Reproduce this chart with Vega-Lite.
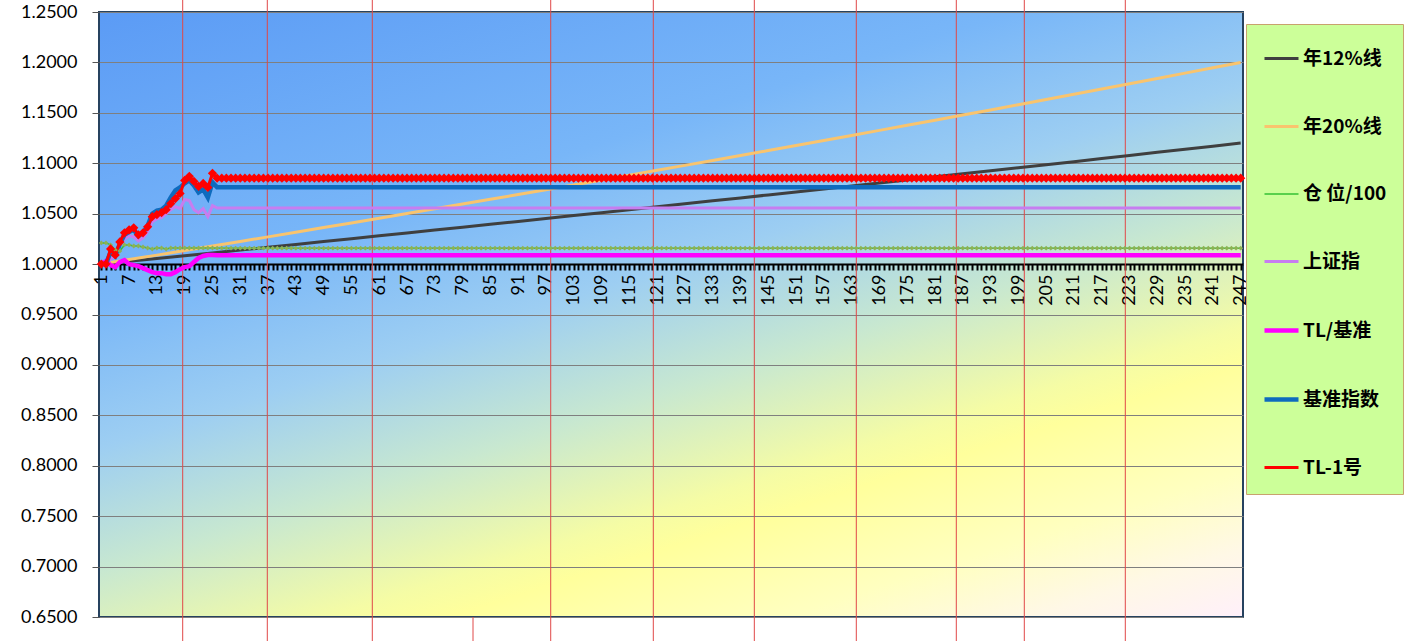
{
"$schema": "https://vega.github.io/schema/vega-lite/v6.json",
"width": 1144, "height": 605,
"autosize": {"type": "none"},
"padding": {"left": 99, "top": 12, "right": 166, "bottom": 24},
"background": "white",
"config": {
  "view": {"fill": {"gradient": "linear", "x1": 0, "y1": 0, "x2": 0.706, "y2": 1.176, "stops": [
    {"offset": 0, "color": "#5B9BF5"}, {"offset": 0.3, "color": "#78B6F8"}, {"offset": 0.45, "color": "#9DCEF2"},
    {"offset": 0.58, "color": "#C8E8D0"}, {"offset": 0.7, "color": "#F5FCA5"}, {"offset": 0.74, "color": "#FFFF9C"},
    {"offset": 0.85, "color": "#FFFFC0"}, {"offset": 0.93, "color": "#FFF8E6"}, {"offset": 1, "color": "#FFF0FA"}]},
    "stroke": "#26425F", "strokeWidth": 2},
  "axis": {"labelFont": "Lato", "labelColor": "black"}
},
"datasets": {
"vl": [
 {"d":18.57,"y1":1.262,"y2":0.626},{"d":36.84,"y1":1.262,"y2":0.626},{"d":59.51,"y1":1.262,"y2":0.626},
 {"d":81.25,"y1":0.65,"y2":0.626},{"d":98.03,"y1":1.262,"y2":0.626},{"d":120.18,"y1":1.262,"y2":0.626},
 {"d":141.99,"y1":1.262,"y2":0.626},{"d":164.01,"y1":1.262,"y2":0.626},{"d":185.6,"y1":1.262,"y2":0.626},
 {"d":200.28,"y1":1.262,"y2":0.626},{"d":222.09,"y1":1.262,"y2":0.626}
],
"main": [
{"d":1,"a":1,"b":1,"p":1.021,"s":1,"t":1,"j":1,"r":1},
{"d":2,"p":1.021,"s":0.999,"t":1.003,"j":1,"r":1},
{"d":3,"p":1.019,"s":1.005,"t":0.999,"j":1.012,"r":1.015},
{"d":4,"p":1.014,"s":1.008,"t":0.997,"j":1.008,"r":1.009},
{"d":5,"p":1.013,"s":1.018,"t":1.002,"j":1.02,"r":1.022},
{"d":6,"p":1.019,"s":1.025,"t":1.004,"j":1.029,"r":1.031},
{"d":7,"a":1.0028,"b":1.0045,"p":1.019,"s":1.028,"t":1,"j":1.032,"r":1.034},
{"d":8,"p":1.018,"s":1.027,"t":0.999,"j":1.034,"r":1.036},
{"d":9,"p":1.018,"s":1.023,"t":0.998,"j":1.028,"r":1.029},
{"d":10,"p":1.017,"s":1.026,"t":0.996,"j":1.031,"r":1.031},
{"d":11,"p":1.016,"s":1.032,"t":0.994,"j":1.038,"r":1.037},
{"d":12,"p":1.015,"s":1.042,"t":0.992,"j":1.05,"r":1.047},
{"d":13,"a":1.0055,"b":1.0089,"p":1.016,"s":1.045,"t":0.991,"j":1.053,"r":1.049},
{"d":14,"p":1.016,"s":1.046,"t":0.991,"j":1.054,"r":1.051},
{"d":15,"p":1.015,"s":1.05,"t":0.99,"j":1.058,"r":1.054},
{"d":16,"p":1.016,"s":1.054,"t":0.99,"j":1.066,"r":1.06},
{"d":17,"p":1.016,"s":1.057,"t":0.992,"j":1.073,"r":1.065},
{"d":18,"p":1.016,"s":1.055,"t":0.995,"j":1.076,"r":1.07},
{"d":19,"a":1.0083,"b":1.0134,"p":1.016,"s":1.064,"t":0.997,"j":1.08,"r":1.083},
{"d":20,"p":1.016,"s":1.063,"t":0.998,"j":1.083,"r":1.087},
{"d":21,"p":1.016,"s":1.054,"t":1.002,"j":1.078,"r":1.082},
{"d":22,"p":1.016,"s":1.051,"t":1.006,"j":1.071,"r":1.077},
{"d":23,"p":1.016,"s":1.055,"t":1.008,"j":1.074,"r":1.08},
{"d":24,"p":1.016,"s":1.047,"t":1.009,"j":1.066,"r":1.076},
{"d":25,"a":1.0111,"b":1.0179,"p":1.016,"s":1.058,"t":1.009,"j":1.081,"r":1.09},
{"d":26,"p":1.0158,"s":1.0555,"t":1.0088,"j":1.0762,"r":1.0852},
{"d":27,"p":1.0158,"s":1.0555,"t":1.0088,"j":1.0762,"r":1.0852},
{"d":28,"p":1.0158,"s":1.0555,"t":1.0088,"j":1.0762,"r":1.0852},
{"d":29,"p":1.0158,"s":1.0555,"t":1.0088,"j":1.0762,"r":1.0852},
{"d":30,"p":1.0158,"s":1.0555,"t":1.0088,"j":1.0762,"r":1.0852},
{"d":31,"a":1.0139,"b":1.0225,"p":1.0158,"s":1.0555,"t":1.0088,"j":1.0762,"r":1.0852},
{"d":32,"p":1.0158,"s":1.0555,"t":1.0088,"j":1.0762,"r":1.0852},
{"d":33,"p":1.0158,"s":1.0555,"t":1.0088,"j":1.0762,"r":1.0852},
{"d":34,"p":1.0158,"s":1.0555,"t":1.0088,"j":1.0762,"r":1.0852},
{"d":35,"p":1.0158,"s":1.0555,"t":1.0088,"j":1.0762,"r":1.0852},
{"d":36,"p":1.0158,"s":1.0555,"t":1.0088,"j":1.0762,"r":1.0852},
{"d":37,"a":1.0167,"b":1.027,"p":1.0158,"s":1.0555,"t":1.0088,"j":1.0762,"r":1.0852},
{"d":38,"p":1.0158,"s":1.0555,"t":1.0088,"j":1.0762,"r":1.0852},
{"d":39,"p":1.0158,"s":1.0555,"t":1.0088,"j":1.0762,"r":1.0852},
{"d":40,"p":1.0158,"s":1.0555,"t":1.0088,"j":1.0762,"r":1.0852},
{"d":41,"p":1.0158,"s":1.0555,"t":1.0088,"j":1.0762,"r":1.0852},
{"d":42,"p":1.0158,"s":1.0555,"t":1.0088,"j":1.0762,"r":1.0852},
{"d":43,"a":1.0195,"b":1.0316,"p":1.0158,"s":1.0555,"t":1.0088,"j":1.0762,"r":1.0852},
{"d":44,"p":1.0158,"s":1.0555,"t":1.0088,"j":1.0762,"r":1.0852},
{"d":45,"p":1.0158,"s":1.0555,"t":1.0088,"j":1.0762,"r":1.0852},
{"d":46,"p":1.0158,"s":1.0555,"t":1.0088,"j":1.0762,"r":1.0852},
{"d":47,"p":1.0158,"s":1.0555,"t":1.0088,"j":1.0762,"r":1.0852},
{"d":48,"p":1.0158,"s":1.0555,"t":1.0088,"j":1.0762,"r":1.0852},
{"d":49,"a":1.0224,"b":1.0362,"p":1.0158,"s":1.0555,"t":1.0088,"j":1.0762,"r":1.0852},
{"d":50,"p":1.0158,"s":1.0555,"t":1.0088,"j":1.0762,"r":1.0852},
{"d":51,"p":1.0158,"s":1.0555,"t":1.0088,"j":1.0762,"r":1.0852},
{"d":52,"p":1.0158,"s":1.0555,"t":1.0088,"j":1.0762,"r":1.0852},
{"d":53,"p":1.0158,"s":1.0555,"t":1.0088,"j":1.0762,"r":1.0852},
{"d":54,"p":1.0158,"s":1.0555,"t":1.0088,"j":1.0762,"r":1.0852},
{"d":55,"a":1.0252,"b":1.0408,"p":1.0158,"s":1.0555,"t":1.0088,"j":1.0762,"r":1.0852},
{"d":56,"p":1.0158,"s":1.0555,"t":1.0088,"j":1.0762,"r":1.0852},
{"d":57,"p":1.0158,"s":1.0555,"t":1.0088,"j":1.0762,"r":1.0852},
{"d":58,"p":1.0158,"s":1.0555,"t":1.0088,"j":1.0762,"r":1.0852},
{"d":59,"p":1.0158,"s":1.0555,"t":1.0088,"j":1.0762,"r":1.0852},
{"d":60,"p":1.0158,"s":1.0555,"t":1.0088,"j":1.0762,"r":1.0852},
{"d":61,"a":1.028,"b":1.0455,"p":1.0158,"s":1.0555,"t":1.0088,"j":1.0762,"r":1.0852},
{"d":62,"p":1.0158,"s":1.0555,"t":1.0088,"j":1.0762,"r":1.0852},
{"d":63,"p":1.0158,"s":1.0555,"t":1.0088,"j":1.0762,"r":1.0852},
{"d":64,"p":1.0158,"s":1.0555,"t":1.0088,"j":1.0762,"r":1.0852},
{"d":65,"p":1.0158,"s":1.0555,"t":1.0088,"j":1.0762,"r":1.0852},
{"d":66,"p":1.0158,"s":1.0555,"t":1.0088,"j":1.0762,"r":1.0852},
{"d":67,"a":1.0309,"b":1.0501,"p":1.0158,"s":1.0555,"t":1.0088,"j":1.0762,"r":1.0852},
{"d":68,"p":1.0158,"s":1.0555,"t":1.0088,"j":1.0762,"r":1.0852},
{"d":69,"p":1.0158,"s":1.0555,"t":1.0088,"j":1.0762,"r":1.0852},
{"d":70,"p":1.0158,"s":1.0555,"t":1.0088,"j":1.0762,"r":1.0852},
{"d":71,"p":1.0158,"s":1.0555,"t":1.0088,"j":1.0762,"r":1.0852},
{"d":72,"p":1.0158,"s":1.0555,"t":1.0088,"j":1.0762,"r":1.0852},
{"d":73,"a":1.0337,"b":1.0548,"p":1.0158,"s":1.0555,"t":1.0088,"j":1.0762,"r":1.0852},
{"d":74,"p":1.0158,"s":1.0555,"t":1.0088,"j":1.0762,"r":1.0852},
{"d":75,"p":1.0158,"s":1.0555,"t":1.0088,"j":1.0762,"r":1.0852},
{"d":76,"p":1.0158,"s":1.0555,"t":1.0088,"j":1.0762,"r":1.0852},
{"d":77,"p":1.0158,"s":1.0555,"t":1.0088,"j":1.0762,"r":1.0852},
{"d":78,"p":1.0158,"s":1.0555,"t":1.0088,"j":1.0762,"r":1.0852},
{"d":79,"a":1.0366,"b":1.0595,"p":1.0158,"s":1.0555,"t":1.0088,"j":1.0762,"r":1.0852},
{"d":80,"p":1.0158,"s":1.0555,"t":1.0088,"j":1.0762,"r":1.0852},
{"d":81,"p":1.0158,"s":1.0555,"t":1.0088,"j":1.0762,"r":1.0852},
{"d":82,"p":1.0158,"s":1.0555,"t":1.0088,"j":1.0762,"r":1.0852},
{"d":83,"p":1.0158,"s":1.0555,"t":1.0088,"j":1.0762,"r":1.0852},
{"d":84,"p":1.0158,"s":1.0555,"t":1.0088,"j":1.0762,"r":1.0852},
{"d":85,"a":1.0395,"b":1.0642,"p":1.0158,"s":1.0555,"t":1.0088,"j":1.0762,"r":1.0852},
{"d":86,"p":1.0158,"s":1.0555,"t":1.0088,"j":1.0762,"r":1.0852},
{"d":87,"p":1.0158,"s":1.0555,"t":1.0088,"j":1.0762,"r":1.0852},
{"d":88,"p":1.0158,"s":1.0555,"t":1.0088,"j":1.0762,"r":1.0852},
{"d":89,"p":1.0158,"s":1.0555,"t":1.0088,"j":1.0762,"r":1.0852},
{"d":90,"p":1.0158,"s":1.0555,"t":1.0088,"j":1.0762,"r":1.0852},
{"d":91,"a":1.0423,"b":1.069,"p":1.0158,"s":1.0555,"t":1.0088,"j":1.0762,"r":1.0852},
{"d":92,"p":1.0158,"s":1.0555,"t":1.0088,"j":1.0762,"r":1.0852},
{"d":93,"p":1.0158,"s":1.0555,"t":1.0088,"j":1.0762,"r":1.0852},
{"d":94,"p":1.0158,"s":1.0555,"t":1.0088,"j":1.0762,"r":1.0852},
{"d":95,"p":1.0158,"s":1.0555,"t":1.0088,"j":1.0762,"r":1.0852},
{"d":96,"p":1.0158,"s":1.0555,"t":1.0088,"j":1.0762,"r":1.0852},
{"d":97,"a":1.0452,"b":1.0737,"p":1.0158,"s":1.0555,"t":1.0088,"j":1.0762,"r":1.0852},
{"d":98,"p":1.0158,"s":1.0555,"t":1.0088,"j":1.0762,"r":1.0852},
{"d":99,"p":1.0158,"s":1.0555,"t":1.0088,"j":1.0762,"r":1.0852},
{"d":100,"p":1.0158,"s":1.0555,"t":1.0088,"j":1.0762,"r":1.0852},
{"d":101,"p":1.0158,"s":1.0555,"t":1.0088,"j":1.0762,"r":1.0852},
{"d":102,"p":1.0158,"s":1.0555,"t":1.0088,"j":1.0762,"r":1.0852},
{"d":103,"a":1.0481,"b":1.0785,"p":1.0158,"s":1.0555,"t":1.0088,"j":1.0762,"r":1.0852},
{"d":104,"p":1.0158,"s":1.0555,"t":1.0088,"j":1.0762,"r":1.0852},
{"d":105,"p":1.0158,"s":1.0555,"t":1.0088,"j":1.0762,"r":1.0852},
{"d":106,"p":1.0158,"s":1.0555,"t":1.0088,"j":1.0762,"r":1.0852},
{"d":107,"p":1.0158,"s":1.0555,"t":1.0088,"j":1.0762,"r":1.0852},
{"d":108,"p":1.0158,"s":1.0555,"t":1.0088,"j":1.0762,"r":1.0852},
{"d":109,"a":1.051,"b":1.0833,"p":1.0158,"s":1.0555,"t":1.0088,"j":1.0762,"r":1.0852},
{"d":110,"p":1.0158,"s":1.0555,"t":1.0088,"j":1.0762,"r":1.0852},
{"d":111,"p":1.0158,"s":1.0555,"t":1.0088,"j":1.0762,"r":1.0852},
{"d":112,"p":1.0158,"s":1.0555,"t":1.0088,"j":1.0762,"r":1.0852},
{"d":113,"p":1.0158,"s":1.0555,"t":1.0088,"j":1.0762,"r":1.0852},
{"d":114,"p":1.0158,"s":1.0555,"t":1.0088,"j":1.0762,"r":1.0852},
{"d":115,"a":1.0539,"b":1.0882,"p":1.0158,"s":1.0555,"t":1.0088,"j":1.0762,"r":1.0852},
{"d":116,"p":1.0158,"s":1.0555,"t":1.0088,"j":1.0762,"r":1.0852},
{"d":117,"p":1.0158,"s":1.0555,"t":1.0088,"j":1.0762,"r":1.0852},
{"d":118,"p":1.0158,"s":1.0555,"t":1.0088,"j":1.0762,"r":1.0852},
{"d":119,"p":1.0158,"s":1.0555,"t":1.0088,"j":1.0762,"r":1.0852},
{"d":120,"p":1.0158,"s":1.0555,"t":1.0088,"j":1.0762,"r":1.0852},
{"d":121,"a":1.0568,"b":1.093,"p":1.0158,"s":1.0555,"t":1.0088,"j":1.0762,"r":1.0852},
{"d":122,"p":1.0158,"s":1.0555,"t":1.0088,"j":1.0762,"r":1.0852},
{"d":123,"p":1.0158,"s":1.0555,"t":1.0088,"j":1.0762,"r":1.0852},
{"d":124,"p":1.0158,"s":1.0555,"t":1.0088,"j":1.0762,"r":1.0852},
{"d":125,"p":1.0158,"s":1.0555,"t":1.0088,"j":1.0762,"r":1.0852},
{"d":126,"p":1.0158,"s":1.0555,"t":1.0088,"j":1.0762,"r":1.0852},
{"d":127,"a":1.0598,"b":1.0979,"p":1.0158,"s":1.0555,"t":1.0088,"j":1.0762,"r":1.0852},
{"d":128,"p":1.0158,"s":1.0555,"t":1.0088,"j":1.0762,"r":1.0852},
{"d":129,"p":1.0158,"s":1.0555,"t":1.0088,"j":1.0762,"r":1.0852},
{"d":130,"p":1.0158,"s":1.0555,"t":1.0088,"j":1.0762,"r":1.0852},
{"d":131,"p":1.0158,"s":1.0555,"t":1.0088,"j":1.0762,"r":1.0852},
{"d":132,"p":1.0158,"s":1.0555,"t":1.0088,"j":1.0762,"r":1.0852},
{"d":133,"a":1.0627,"b":1.1028,"p":1.0158,"s":1.0555,"t":1.0088,"j":1.0762,"r":1.0852},
{"d":134,"p":1.0158,"s":1.0555,"t":1.0088,"j":1.0762,"r":1.0852},
{"d":135,"p":1.0158,"s":1.0555,"t":1.0088,"j":1.0762,"r":1.0852},
{"d":136,"p":1.0158,"s":1.0555,"t":1.0088,"j":1.0762,"r":1.0852},
{"d":137,"p":1.0158,"s":1.0555,"t":1.0088,"j":1.0762,"r":1.0852},
{"d":138,"p":1.0158,"s":1.0555,"t":1.0088,"j":1.0762,"r":1.0852},
{"d":139,"a":1.0656,"b":1.1077,"p":1.0158,"s":1.0555,"t":1.0088,"j":1.0762,"r":1.0852},
{"d":140,"p":1.0158,"s":1.0555,"t":1.0088,"j":1.0762,"r":1.0852},
{"d":141,"p":1.0158,"s":1.0555,"t":1.0088,"j":1.0762,"r":1.0852},
{"d":142,"p":1.0158,"s":1.0555,"t":1.0088,"j":1.0762,"r":1.0852},
{"d":143,"p":1.0158,"s":1.0555,"t":1.0088,"j":1.0762,"r":1.0852},
{"d":144,"p":1.0158,"s":1.0555,"t":1.0088,"j":1.0762,"r":1.0852},
{"d":145,"a":1.0686,"b":1.1126,"p":1.0158,"s":1.0555,"t":1.0088,"j":1.0762,"r":1.0852},
{"d":146,"p":1.0158,"s":1.0555,"t":1.0088,"j":1.0762,"r":1.0852},
{"d":147,"p":1.0158,"s":1.0555,"t":1.0088,"j":1.0762,"r":1.0852},
{"d":148,"p":1.0158,"s":1.0555,"t":1.0088,"j":1.0762,"r":1.0852},
{"d":149,"p":1.0158,"s":1.0555,"t":1.0088,"j":1.0762,"r":1.0852},
{"d":150,"p":1.0158,"s":1.0555,"t":1.0088,"j":1.0762,"r":1.0852},
{"d":151,"a":1.0715,"b":1.1176,"p":1.0158,"s":1.0555,"t":1.0088,"j":1.0762,"r":1.0852},
{"d":152,"p":1.0158,"s":1.0555,"t":1.0088,"j":1.0762,"r":1.0852},
{"d":153,"p":1.0158,"s":1.0555,"t":1.0088,"j":1.0762,"r":1.0852},
{"d":154,"p":1.0158,"s":1.0555,"t":1.0088,"j":1.0762,"r":1.0852},
{"d":155,"p":1.0158,"s":1.0555,"t":1.0088,"j":1.0762,"r":1.0852},
{"d":156,"p":1.0158,"s":1.0555,"t":1.0088,"j":1.0762,"r":1.0852},
{"d":157,"a":1.0745,"b":1.1226,"p":1.0158,"s":1.0555,"t":1.0088,"j":1.0762,"r":1.0852},
{"d":158,"p":1.0158,"s":1.0555,"t":1.0088,"j":1.0762,"r":1.0852},
{"d":159,"p":1.0158,"s":1.0555,"t":1.0088,"j":1.0762,"r":1.0852},
{"d":160,"p":1.0158,"s":1.0555,"t":1.0088,"j":1.0762,"r":1.0852},
{"d":161,"p":1.0158,"s":1.0555,"t":1.0088,"j":1.0762,"r":1.0852},
{"d":162,"p":1.0158,"s":1.0555,"t":1.0088,"j":1.0762,"r":1.0852},
{"d":163,"a":1.0775,"b":1.1276,"p":1.0158,"s":1.0555,"t":1.0088,"j":1.0762,"r":1.0852},
{"d":164,"p":1.0158,"s":1.0555,"t":1.0088,"j":1.0762,"r":1.0852},
{"d":165,"p":1.0158,"s":1.0555,"t":1.0088,"j":1.0762,"r":1.0852},
{"d":166,"p":1.0158,"s":1.0555,"t":1.0088,"j":1.0762,"r":1.0852},
{"d":167,"p":1.0158,"s":1.0555,"t":1.0088,"j":1.0762,"r":1.0852},
{"d":168,"p":1.0158,"s":1.0555,"t":1.0088,"j":1.0762,"r":1.0852},
{"d":169,"a":1.0805,"b":1.1326,"p":1.0158,"s":1.0555,"t":1.0088,"j":1.0762,"r":1.0852},
{"d":170,"p":1.0158,"s":1.0555,"t":1.0088,"j":1.0762,"r":1.0852},
{"d":171,"p":1.0158,"s":1.0555,"t":1.0088,"j":1.0762,"r":1.0852},
{"d":172,"p":1.0158,"s":1.0555,"t":1.0088,"j":1.0762,"r":1.0852},
{"d":173,"p":1.0158,"s":1.0555,"t":1.0088,"j":1.0762,"r":1.0852},
{"d":174,"p":1.0158,"s":1.0555,"t":1.0088,"j":1.0762,"r":1.0852},
{"d":175,"a":1.0835,"b":1.1376,"p":1.0158,"s":1.0555,"t":1.0088,"j":1.0762,"r":1.0852},
{"d":176,"p":1.0158,"s":1.0555,"t":1.0088,"j":1.0762,"r":1.0852},
{"d":177,"p":1.0158,"s":1.0555,"t":1.0088,"j":1.0762,"r":1.0852},
{"d":178,"p":1.0158,"s":1.0555,"t":1.0088,"j":1.0762,"r":1.0852},
{"d":179,"p":1.0158,"s":1.0555,"t":1.0088,"j":1.0762,"r":1.0852},
{"d":180,"p":1.0158,"s":1.0555,"t":1.0088,"j":1.0762,"r":1.0852},
{"d":181,"a":1.0865,"b":1.1427,"p":1.0158,"s":1.0555,"t":1.0088,"j":1.0762,"r":1.0852},
{"d":182,"p":1.0158,"s":1.0555,"t":1.0088,"j":1.0762,"r":1.0852},
{"d":183,"p":1.0158,"s":1.0555,"t":1.0088,"j":1.0762,"r":1.0852},
{"d":184,"p":1.0158,"s":1.0555,"t":1.0088,"j":1.0762,"r":1.0852},
{"d":185,"p":1.0158,"s":1.0555,"t":1.0088,"j":1.0762,"r":1.0852},
{"d":186,"p":1.0158,"s":1.0555,"t":1.0088,"j":1.0762,"r":1.0852},
{"d":187,"a":1.0895,"b":1.1478,"p":1.0158,"s":1.0555,"t":1.0088,"j":1.0762,"r":1.0852},
{"d":188,"p":1.0158,"s":1.0555,"t":1.0088,"j":1.0762,"r":1.0852},
{"d":189,"p":1.0158,"s":1.0555,"t":1.0088,"j":1.0762,"r":1.0852},
{"d":190,"p":1.0158,"s":1.0555,"t":1.0088,"j":1.0762,"r":1.0852},
{"d":191,"p":1.0158,"s":1.0555,"t":1.0088,"j":1.0762,"r":1.0852},
{"d":192,"p":1.0158,"s":1.0555,"t":1.0088,"j":1.0762,"r":1.0852},
{"d":193,"a":1.0925,"b":1.1529,"p":1.0158,"s":1.0555,"t":1.0088,"j":1.0762,"r":1.0852},
{"d":194,"p":1.0158,"s":1.0555,"t":1.0088,"j":1.0762,"r":1.0852},
{"d":195,"p":1.0158,"s":1.0555,"t":1.0088,"j":1.0762,"r":1.0852},
{"d":196,"p":1.0158,"s":1.0555,"t":1.0088,"j":1.0762,"r":1.0852},
{"d":197,"p":1.0158,"s":1.0555,"t":1.0088,"j":1.0762,"r":1.0852},
{"d":198,"p":1.0158,"s":1.0555,"t":1.0088,"j":1.0762,"r":1.0852},
{"d":199,"a":1.0955,"b":1.1581,"p":1.0158,"s":1.0555,"t":1.0088,"j":1.0762,"r":1.0852},
{"d":200,"p":1.0158,"s":1.0555,"t":1.0088,"j":1.0762,"r":1.0852},
{"d":201,"p":1.0158,"s":1.0555,"t":1.0088,"j":1.0762,"r":1.0852},
{"d":202,"p":1.0158,"s":1.0555,"t":1.0088,"j":1.0762,"r":1.0852},
{"d":203,"p":1.0158,"s":1.0555,"t":1.0088,"j":1.0762,"r":1.0852},
{"d":204,"p":1.0158,"s":1.0555,"t":1.0088,"j":1.0762,"r":1.0852},
{"d":205,"a":1.0985,"b":1.1632,"p":1.0158,"s":1.0555,"t":1.0088,"j":1.0762,"r":1.0852},
{"d":206,"p":1.0158,"s":1.0555,"t":1.0088,"j":1.0762,"r":1.0852},
{"d":207,"p":1.0158,"s":1.0555,"t":1.0088,"j":1.0762,"r":1.0852},
{"d":208,"p":1.0158,"s":1.0555,"t":1.0088,"j":1.0762,"r":1.0852},
{"d":209,"p":1.0158,"s":1.0555,"t":1.0088,"j":1.0762,"r":1.0852},
{"d":210,"p":1.0158,"s":1.0555,"t":1.0088,"j":1.0762,"r":1.0852},
{"d":211,"a":1.1016,"b":1.1684,"p":1.0158,"s":1.0555,"t":1.0088,"j":1.0762,"r":1.0852},
{"d":212,"p":1.0158,"s":1.0555,"t":1.0088,"j":1.0762,"r":1.0852},
{"d":213,"p":1.0158,"s":1.0555,"t":1.0088,"j":1.0762,"r":1.0852},
{"d":214,"p":1.0158,"s":1.0555,"t":1.0088,"j":1.0762,"r":1.0852},
{"d":215,"p":1.0158,"s":1.0555,"t":1.0088,"j":1.0762,"r":1.0852},
{"d":216,"p":1.0158,"s":1.0555,"t":1.0088,"j":1.0762,"r":1.0852},
{"d":217,"a":1.1046,"b":1.1736,"p":1.0158,"s":1.0555,"t":1.0088,"j":1.0762,"r":1.0852},
{"d":218,"p":1.0158,"s":1.0555,"t":1.0088,"j":1.0762,"r":1.0852},
{"d":219,"p":1.0158,"s":1.0555,"t":1.0088,"j":1.0762,"r":1.0852},
{"d":220,"p":1.0158,"s":1.0555,"t":1.0088,"j":1.0762,"r":1.0852},
{"d":221,"p":1.0158,"s":1.0555,"t":1.0088,"j":1.0762,"r":1.0852},
{"d":222,"p":1.0158,"s":1.0555,"t":1.0088,"j":1.0762,"r":1.0852},
{"d":223,"a":1.1077,"b":1.1788,"p":1.0158,"s":1.0555,"t":1.0088,"j":1.0762,"r":1.0852},
{"d":224,"p":1.0158,"s":1.0555,"t":1.0088,"j":1.0762,"r":1.0852},
{"d":225,"p":1.0158,"s":1.0555,"t":1.0088,"j":1.0762,"r":1.0852},
{"d":226,"p":1.0158,"s":1.0555,"t":1.0088,"j":1.0762,"r":1.0852},
{"d":227,"p":1.0158,"s":1.0555,"t":1.0088,"j":1.0762,"r":1.0852},
{"d":228,"p":1.0158,"s":1.0555,"t":1.0088,"j":1.0762,"r":1.0852},
{"d":229,"a":1.1108,"b":1.1841,"p":1.0158,"s":1.0555,"t":1.0088,"j":1.0762,"r":1.0852},
{"d":230,"p":1.0158,"s":1.0555,"t":1.0088,"j":1.0762,"r":1.0852},
{"d":231,"p":1.0158,"s":1.0555,"t":1.0088,"j":1.0762,"r":1.0852},
{"d":232,"p":1.0158,"s":1.0555,"t":1.0088,"j":1.0762,"r":1.0852},
{"d":233,"p":1.0158,"s":1.0555,"t":1.0088,"j":1.0762,"r":1.0852},
{"d":234,"p":1.0158,"s":1.0555,"t":1.0088,"j":1.0762,"r":1.0852},
{"d":235,"a":1.1138,"b":1.1894,"p":1.0158,"s":1.0555,"t":1.0088,"j":1.0762,"r":1.0852},
{"d":236,"p":1.0158,"s":1.0555,"t":1.0088,"j":1.0762,"r":1.0852},
{"d":237,"p":1.0158,"s":1.0555,"t":1.0088,"j":1.0762,"r":1.0852},
{"d":238,"p":1.0158,"s":1.0555,"t":1.0088,"j":1.0762,"r":1.0852},
{"d":239,"p":1.0158,"s":1.0555,"t":1.0088,"j":1.0762,"r":1.0852},
{"d":240,"p":1.0158,"s":1.0555,"t":1.0088,"j":1.0762,"r":1.0852},
{"d":241,"a":1.1169,"b":1.1947,"p":1.0158,"s":1.0555,"t":1.0088,"j":1.0762,"r":1.0852},
{"d":242,"p":1.0158,"s":1.0555,"t":1.0088,"j":1.0762,"r":1.0852},
{"d":243,"p":1.0158,"s":1.0555,"t":1.0088,"j":1.0762,"r":1.0852},
{"d":244,"p":1.0158,"s":1.0555,"t":1.0088,"j":1.0762,"r":1.0852},
{"d":245,"p":1.0158,"s":1.0555,"t":1.0088,"j":1.0762,"r":1.0852},
{"d":246,"p":1.0158,"s":1.0555,"t":1.0088,"j":1.0762,"r":1.0852},
{"d":247,"a":1.12,"b":1.2,"p":1.0158,"s":1.0555,"t":1.0088,"j":1.0762,"r":1.0852}
]
},
"encoding": {
  "x": {"field": "d", "type": "quantitative",
    "scale": {"domain": [0.5, 247.5], "nice": false, "zero": false},
    "axis": {"orient": "bottom", "offset": -353, "title": null, "grid": false, "tickCount": 247,
      "labelExpr": "(datum.value - 1) % 6 === 0 ? datum.label : ''", "labelOverlap": false, "labelBound": false, "labelFlush": false,
      "labelAngle": 270, "labelFontSize": 18, "labelPadding": 4,
      "domainColor": "black", "domainWidth": 2, "tickColor": "black", "tickWidth": 2, "tickSize": 6}}
},
"layer": [
  {"data": {"name": "vl"},
   "mark": {"type": "rule", "clip": false, "color": "#E04848", "strokeWidth": 1},
   "encoding": {
     "y": {"field": "y1", "type": "quantitative", "scale": {"domain": [0.65, 1.25], "nice": false, "zero": false}, "title": null},
     "y2": {"field": "y2"}}},
  {"data": {"name": "main"},
   "transform": [{"fold": ["a", "b", "p", "s", "t", "j", "r"], "as": ["k", "v"]}, {"filter": "isValid(datum.v)"}],
   "mark": {"type": "line"},
   "encoding": {
     "y": {"field": "v", "type": "quantitative", "scale": {"domain": [0.65, 1.25], "nice": false, "zero": false},
       "axis": {"title": null, "values": [0.65, 0.7, 0.75, 0.8, 0.85, 0.9, 0.95, 1, 1.05, 1.1, 1.15, 1.2, 1.25],
         "format": ".4f", "labelFontSize": 18, "labelPadding": 15, "tickSize": 7, "tickColor": "#555555",
         "domain": false, "grid": true, "gridColor": "#7F7F7F", "gridWidth": 1}},
     "color": {"field": "k", "type": "nominal",
       "scale": {"domain": ["a", "b", "p", "s", "t", "j", "r"],
         "range": ["#3F3F3F", "#F9C46E", "#33C033", "#C77DF0", "#FF00FF", "#0E6BBE", "#FF0000"]},
       "legend": {"orient": "none", "legendX": 1147, "legendY": 12, "title": null,
         "fillColor": "#CCFF99", "strokeColor": "#C8A26E", "padding": 16, "rowPadding": 39,
         "symbolType": "stroke", "symbolSize": 1156, "labelFontSize": 19, "labelFontWeight": "bold",
         "labelFont": "Noto Sans CJK SC", "labelColor": "black", "labelOffset": 2, "labelLimit": 200,
         "labelExpr": "datum.value == 'a' ? '年12%线' : datum.value == 'b' ? '年20%线' : datum.value == 'p' ? '仓 位/100' : datum.value == 's' ? '上证指' : datum.value == 't' ? 'TL/基准' : datum.value == 'j' ? '基准指数' : 'TL-1号'"}},
     "strokeWidth": {"field": "k", "type": "nominal",
       "scale": {"type": "ordinal", "domain": ["a", "b", "p", "s", "t", "j", "r"], "range": [3, 3, 1.5, 3, 4.5, 4.5, 3]}}
   }},
  {"data": {"name": "main"},
   "mark": {"type": "point", "shape": "diamond", "filled": true, "size": 24, "color": "#8DB255", "opacity": 1},
   "encoding": {"y": {"field": "p", "type": "quantitative", "title": null}}},
  {"data": {"name": "main"},
   "mark": {"type": "point", "shape": "diamond", "filled": true, "size": 85, "color": "#FF0000", "opacity": 1},
   "encoding": {"y": {"field": "r", "type": "quantitative", "title": null}}}
]
}
